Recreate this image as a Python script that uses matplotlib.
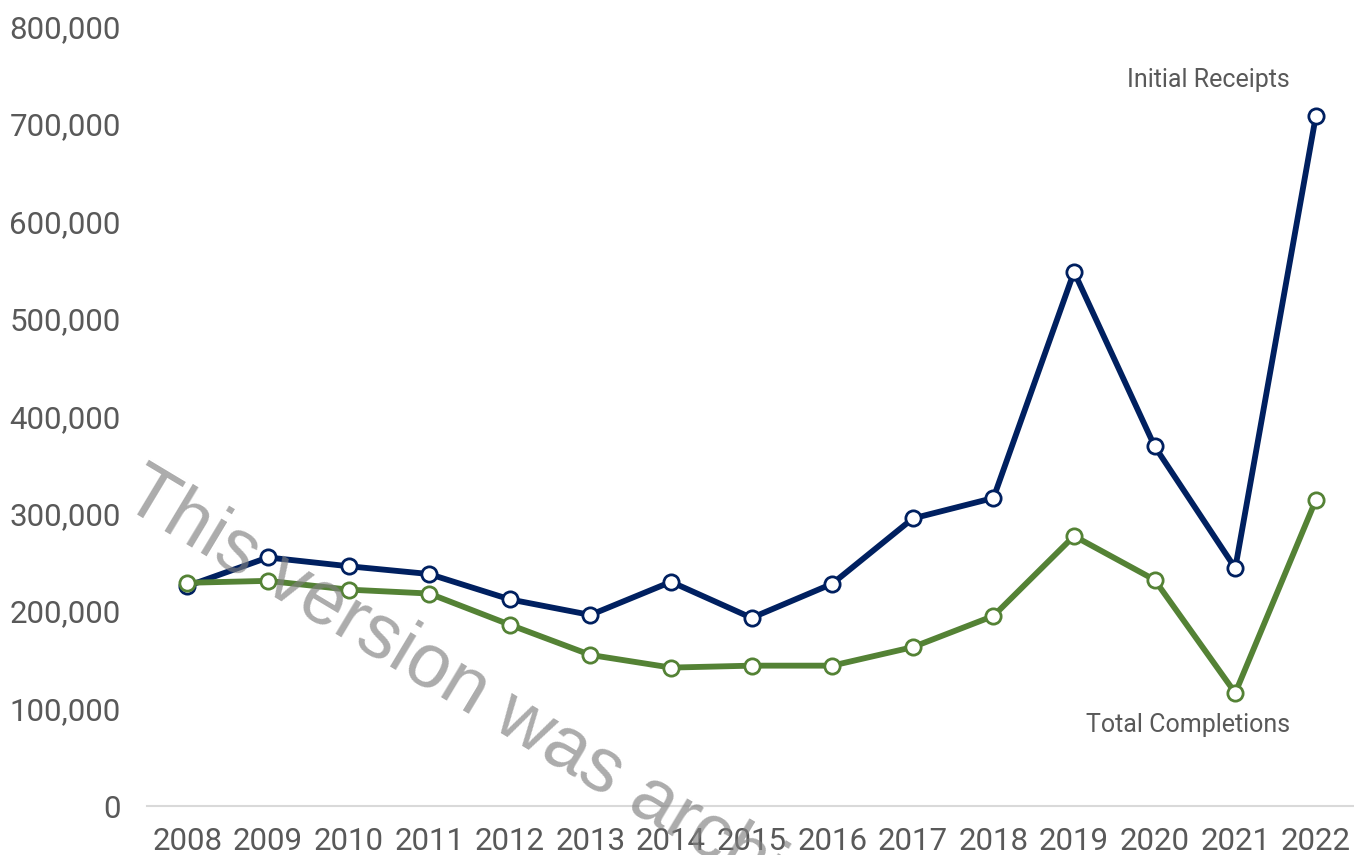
import matplotlib.pyplot as plt
import matplotlib.ticker as mticker

years = [2008, 2009, 2010, 2011, 2012, 2013, 2014, 2015,
         2016, 2017, 2018, 2019, 2020, 2021, 2022]
initial_receipts = [225600, 255000, 246000, 238000, 212000, 196000, 230000, 193000,
                    228000, 295000, 316000, 548000, 369000, 244000, 708000]
total_completions = [229000, 231000, 222000, 218000, 186000, 155000, 142000, 144000,
                     144000, 163000, 195000, 277000, 232000, 116000, 314000]

plt.rcParams['font.family'] = ['Roboto', 'DejaVu Sans']

fig = plt.figure(figsize=(13.54, 8.55), dpi=100)
ax = fig.add_axes([0.1086, 0.0573, 0.893, 0.912])

x = list(range(len(years)))
ax.plot(x, initial_receipts, color='#002060', lw=4.2, marker='o', ms=11,
        mfc='white', mec='#002060', mew=2, zorder=3)
ax.plot(x, total_completions, color='#548235', lw=4.2, marker='o', ms=11,
        mfc='white', mec='#548235', mew=2, zorder=3)

ax.set_xlim(-0.5, len(years) - 0.5)
ax.set_ylim(0, 800000)
ax.set_yticks(range(0, 800001, 100000))
ax.yaxis.set_major_formatter(mticker.FuncFormatter(lambda v, p: f"{int(v):,}"))
ax.set_xticks(x)
ax.set_xticklabels([str(y) for y in years])

for s in ['top', 'right', 'left']:
    ax.spines[s].set_visible(False)
ax.spines['bottom'].set_color('#d9d9d9')
ax.spines['bottom'].set_linewidth(1.5)
ax.tick_params(axis='both', length=0, labelsize=22.5, colors='#595959')
ax.tick_params(axis='y', pad=19)
ax.tick_params(axis='x', pad=15)

ax.text(12.67, 745000, "Initial Receipts", fontsize=18, color='#595959',
        ha='center', va='center')
ax.text(12.41, 83000, "Total Completions", fontsize=18, color='#595959',
        ha='center', va='center')

# watermark, runs off the bottom edge like the original
fig.text(0.088, 0.41, "This version was archived", fontsize=55, color='#808080',
         family=['Liberation Sans', 'DejaVu Sans'],
         alpha=0.66, rotation=-31, rotation_mode='anchor', ha='left', va='baseline',
         zorder=10)

fig.savefig('out.png', dpi=100)
